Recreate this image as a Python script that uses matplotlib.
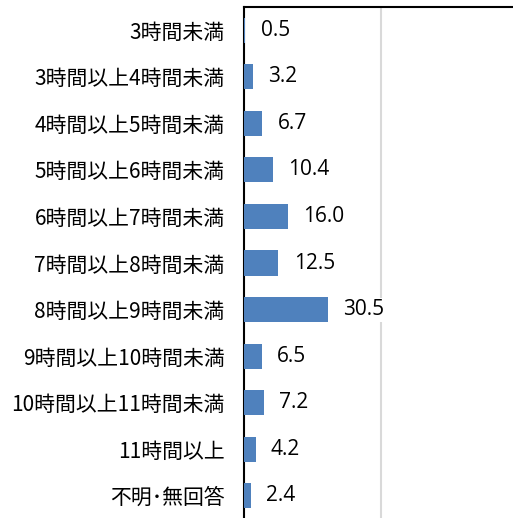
import matplotlib.pyplot as plt

plt.rcParams['font.family'] = ['Noto Sans CJK JP', 'DejaVu Sans']

# categories top to bottom
categories = [
    "3時間未満",
    "3時間以上4時間未満",
    "4時間以上5時間未満",
    "5時間以上6時間未満",
    "6時間以上7時間未満",
    "7時間以上8時間未満",
    "8時間以上9時間未満",
    "9時間以上10時間未満",
    "10時間以上11時間未満",
    "11時間以上",
    "不明･無回答",
]
values = [0.5, 3.2, 6.7, 10.4, 16.0, 12.5, 30.5, 6.5, 7.2, 4.2, 2.4]

fig = plt.figure(figsize=(5.13, 5.18), dpi=100)
ax = fig.add_axes([0.4756, -0.002, 0.5244, 0.9885])

y = list(range(len(categories)))
ax.barh(y, values, height=0.54, color='#4F81BD', zorder=3)

for yi, v in zip(y, values):
    ax.annotate(f"{v:.1f}", (v, yi), xytext=(11, 0), textcoords='offset points',
                ha='left', va='center', fontsize=15, family=['Open Sans', 'DejaVu Sans'],
                bbox=dict(facecolor='white', edgecolor='none', pad=1), zorder=4)

ax.set_yticks(y)
ax.set_yticklabels(categories, fontsize=15)
ax.set_ylim(len(categories) - 0.5, -0.5)
ax.set_xlim(0, 98)
ax.set_xticks([50])
ax.xaxis.grid(True, color='#D9D9D9', linewidth=1.5, zorder=0)
ax.tick_params(axis='y', length=0, pad=14)
ax.tick_params(axis='x', length=0, labelbottom=False)

for side in ['right', 'bottom']:
    ax.spines[side].set_visible(False)
ax.spines['left'].set_linewidth(1.5)
ax.spines['top'].set_linewidth(1.5)

fig.savefig('out.png', dpi=100)
